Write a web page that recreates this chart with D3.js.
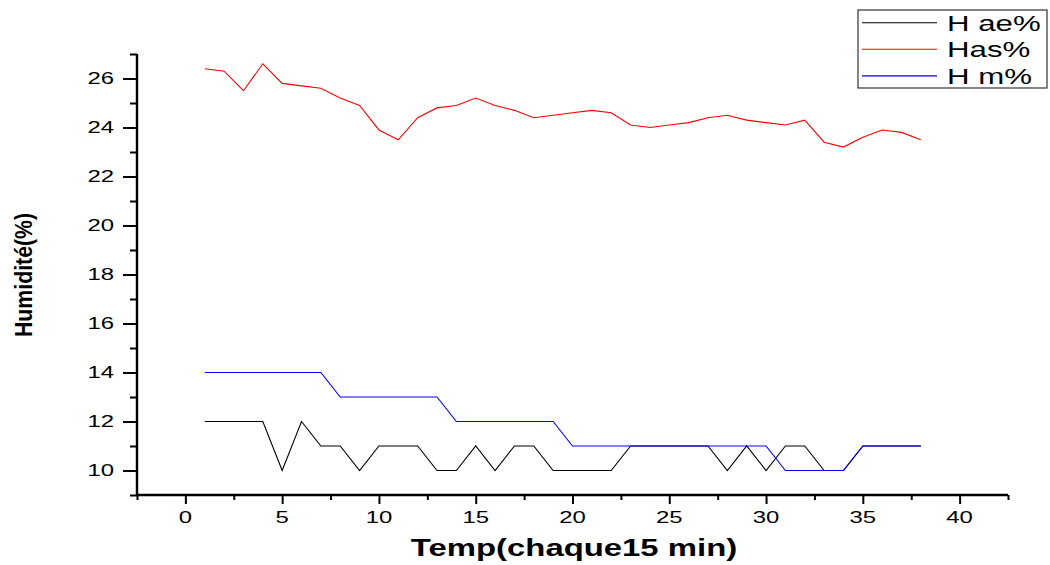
<!DOCTYPE html>
<html>
<head>
<meta charset="utf-8">
<script src="https://cdn.jsdelivr.net/npm/d3@7"></script>
<style>
  body { margin: 0; background: #fff; }
  svg { display: block; }
  text { font-family: "Liberation Sans", Arial, sans-serif; fill: #000; }
</style>
</head>
<body>
<svg id="chart" width="1050" height="565"></svg>
<script>
// Time step index (one reading every 15 minutes)
const steps = [1,2,3,4,5,6,7,8,9,10,11,12,13,14,15,16,17,18,19,20,
               21,22,23,24,25,26,27,28,29,30,31,32,33,34,35,36,37,38];

// Humidity series (%)
const hAe = [12,12,12,12,10,12,11,11,10,11,11,11,10,10,11,10,11,11,10,10,
             10,10,11,11,11,11,11,10,11,10,11,11,10,10,11,11,11,11];
const hAs = [26.4,26.3,25.5,26.6,25.8,25.7,25.6,25.2,24.9,23.9,23.5,24.4,24.8,24.9,25.2,24.9,24.7,24.4,24.5,24.6,
             24.7,24.6,24.1,24.0,24.1,24.2,24.4,24.5,24.3,24.2,24.1,24.3,23.4,23.2,23.6,23.9,23.8,23.5];
const hM  = [14,14,14,14,14,14,14,13,13,13,13,13,13,12,12,12,12,12,12,11,
             11,11,11,11,11,11,11,11,11,11,10,10,10,10,11,11,11,11];

const seriesNames  = ["H ae%", "Has%", "H m%"];
const seriesColors = ["#000000", "#ff0000", "#0000ff"];
const seriesValues = [hAe, hAs, hM];

const xMajorTicks = [0,5,10,15,20,25,30,35,40];
const xMinorTicks = [-2.5,2.5,7.5,12.5,17.5,22.5,27.5,32.5,37.5,42.5];
const yMajorTicks = [10,12,14,16,18,20,22,24,26];
const yMinorTicks = [9,11,13,15,17,19,21,23,25,27];

const xTitle = "Temp(chaque15 min)";
const yTitle = "Humidité(%)";

const svg = d3.select("#chart");
const x = d3.scaleLinear().domain([-2.5, 42.5]).range([137, 1008]);
const y = d3.scaleLinear().domain([9, 27]).range([495, 54]);
const stretch = 1.45; // wide lettering

// data lines
const line = d3.line().x((d, i) => x(steps[i])).y(d => y(d));
seriesValues.forEach((vals, k) => {
  svg.append("path")
    .datum(vals)
    .attr("d", line)
    .attr("fill", "none")
    .attr("stroke", seriesColors[k])
    .attr("stroke-width", 1.1)
    .attr("stroke-linejoin", "miter");
});

// axes
const axisG = svg.append("g");
axisG.append("g")
  .attr("transform", `translate(0,${y(9)})`)
  .call(d3.axisBottom(x).tickValues(xMajorTicks).tickSize(9).tickFormat(""));
axisG.append("g")
  .attr("transform", `translate(0,${y(9)})`)
  .call(d3.axisBottom(x).tickValues(xMinorTicks).tickSize(5).tickFormat(""));
axisG.append("g")
  .attr("transform", `translate(${x(-2.5)},0)`)
  .call(d3.axisLeft(y).tickValues(yMajorTicks).tickSize(14).tickFormat(""));
axisG.append("g")
  .attr("transform", `translate(${x(-2.5)},0)`)
  .call(d3.axisLeft(y).tickValues(yMinorTicks).tickSize(7).tickFormat(""));
axisG.selectAll(".domain").remove();
axisG.selectAll(".tick line").attr("stroke", "#000").attr("stroke-width", 2);

axisG.append("line")
  .attr("x1", x(-2.5)).attr("x2", x(-2.5))
  .attr("y1", y(27)).attr("y2", y(9) + 1)
  .attr("stroke", "#000").attr("stroke-width", 2.4);
axisG.append("line")
  .attr("x1", x(-2.5) - 1).attr("x2", x(42.5))
  .attr("y1", y(9)).attr("y2", y(9))
  .attr("stroke", "#000").attr("stroke-width", 2.4);

// tick labels
svg.append("g").selectAll("text")
  .data(xMajorTicks).join("text")
  .attr("transform", d => `translate(${x(d)},523) scale(${stretch},1)`)
  .attr("text-anchor", "middle")
  .style("font-size", "16.5px")
  .text(d => d);
svg.append("g").selectAll("text")
  .data(yMajorTicks).join("text")
  .attr("transform", d => `translate(114,${y(d)}) scale(${stretch},1)`)
  .attr("text-anchor", "end")
  .attr("dy", "0.36em")
  .style("font-size", "16.5px")
  .text(d => d);

// axis titles
svg.append("text")
  .attr("transform", `translate(574,556) scale(1.43,1)`)
  .attr("text-anchor", "middle")
  .style("font-size", "23px")
  .style("font-weight", "bold")
  .text(xTitle);
svg.append("text")
  .attr("transform", `translate(32,275) rotate(-90) scale(1,1.15)`)
  .attr("text-anchor", "middle")
  .style("font-size", "21.3px")
  .style("font-weight", "bold")
  .text(yTitle);

// legend
const legend = svg.append("g");
legend.append("rect")
  .attr("x", 858).attr("y", 10).attr("width", 189).attr("height", 78)
  .attr("fill", "#fff").attr("stroke", "#333").attr("stroke-width", 1.2);
seriesNames.forEach((name, k) => {
  const ly = 22.7 + k * 26.6;
  legend.append("line")
    .attr("x1", 862).attr("x2", 937).attr("y1", ly).attr("y2", ly)
    .attr("stroke", seriesColors[k]).attr("stroke-width", 1.1);
  legend.append("text")
    .attr("transform", `translate(947,${ly + 8}) scale(1.42,1)`)
    .style("font-size", "22px")
    .text(name);
});
</script>
</body>
</html>
